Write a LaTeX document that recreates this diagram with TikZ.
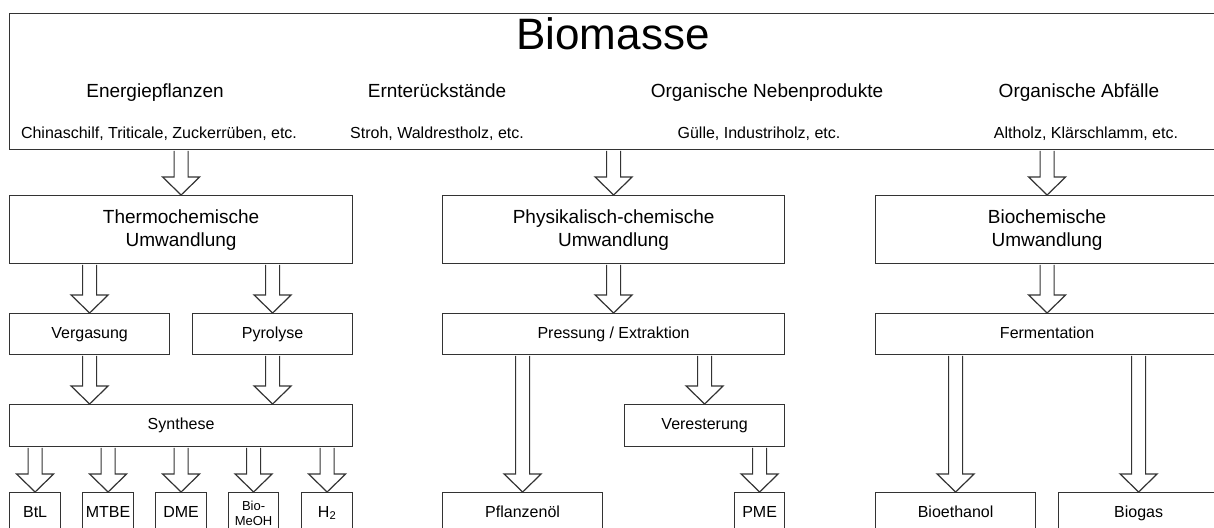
\documentclass[tikz,border=0pt]{standalone}
\usepackage{fontspec}
\setmainfont{Liberation Sans}
\usetikzlibrary{calc}

\tikzset{
	box/.style={draw=black!80, line width=1.2pt, fill=white, inner sep=0pt, align=center, anchor=north west},
	label/.style={inner sep=0pt, anchor=base},
	bigfont/.style={font=\fontsize{19}{23}\selectfont},
	smallfont/.style={font=\fontsize{16}{19}\selectfont, text height=11.5pt, text depth=3.4pt},
	blockarr/.style={draw=black!80, line width=1.2pt, fill=white, line join=miter},
}

% block arrow from #1 to #2, placed at the x of #3
\newcommand{\blockarrow}[3]{%
	\draw[blockarr] let \p1=(#2.north), \p2=(#1.south), \p3=(#3.center) in
		(\x3-7pt,\y2-0.6pt) -- (\x3-7pt,\y1+18pt) -- (\x3-18.5pt,\y1+18pt) -- (\x3,\y1)
		-- (\x3+18.5pt,\y1+18pt) -- (\x3+7pt,\y1+18pt) -- (\x3+7pt,\y2-0.6pt);}

\begin{document}
\begin{tikzpicture}[x=1pt, y=-1pt]

	\useasboundingbox (0,0) rectangle (1214,527);
	\clip (0,0) rectangle (1214,527);

	\node[box, minimum width=1208pt, minimum height=136pt] (biomasse) at (9,13) {};
	\node[label, font=\fontsize{44}{50}\selectfont] (title) at (613,50) {Biomasse};
	\node[label, bigfont] (cat1) at (155,97) {Energiepflanzen};
	\node[label, bigfont] (cat2) at (437,97) {Ernterückstände};
	\node[label, bigfont] (cat3) at (767,97) {Organische Nebenprodukte};
	\node[label, bigfont] (cat4) at (1079,97) {Organische Abfälle};
	\node[label, smallfont] (ex1) at (159,138) {Chinaschilf, Triticale, Zuckerrüben, etc.};
	\node[label, smallfont] (ex2) at (437,138) {Stroh, Waldrestholz, etc.};
	\node[label, smallfont] (ex3) at (759,138) {Gülle, Industriholz, etc.};
	\node[label, smallfont] (ex4) at (1086,138) {Altholz, Klärschlamm, etc.};

	\node[box, bigfont, minimum width=343pt, minimum height=68pt] (thermo) at (9,195) {Thermochemische\\Umwandlung};
	\node[box, bigfont, minimum width=342pt, minimum height=68pt] (physchem) at (442,195) {Physikalisch-chemische\\Umwandlung};
	\node[box, bigfont, minimum width=343pt, minimum height=68pt] (biochem) at (875,195) {Biochemische\\Umwandlung};

	\node[box, smallfont, minimum width=160pt, minimum height=41pt] (vergasung) at (9,313) {Vergasung};
	\node[box, smallfont, minimum width=160pt, minimum height=41pt] (pyrolyse) at (192,313) {Pyrolyse};
	\node[box, smallfont, minimum width=342pt, minimum height=41pt] (pressung) at (442,313) {Pressung / Extraktion};
	\node[box, smallfont, minimum width=343pt, minimum height=41pt] (fermentation) at (875,313) {Fermentation};

	\node[box, smallfont, minimum width=343pt, minimum height=42pt] (synthese) at (9,404) {Synthese};
	\node[box, smallfont, minimum width=160pt, minimum height=42pt] (veresterung) at (624,404) {Veresterung};

	\node[box, smallfont, minimum width=51pt, minimum height=41pt] (btl) at (9,492) {BtL};
	\node[box, smallfont, minimum width=51pt, minimum height=41pt] (mtbe) at (82,492) {MTBE};
	\node[box, smallfont, minimum width=51pt, minimum height=41pt] (dme) at (155,492) {DME};
	\node[box, font=\fontsize{13}{15}\selectfont, minimum width=50pt, minimum height=41pt] (biomeoh) at (228,492) {Bio-\\MeOH};
	\node[box, smallfont, minimum width=51pt, minimum height=41pt] (htwo) at (301,492) {H\textsubscript{2}};
	\node[box, smallfont, minimum width=160pt, minimum height=41pt] (pflanzenoel) at (442,492) {Pflanzenöl};
	\node[box, smallfont, minimum width=50pt, minimum height=41pt] (pme) at (734,492) {PME};
	\node[box, smallfont, minimum width=160pt, minimum height=41pt] (bioethanol) at (875,492) {Bioethanol};
	\node[box, smallfont, minimum width=160pt, minimum height=41pt] (biogas) at (1058,492) {Biogas};

	\blockarrow{biomasse}{thermo}{thermo}
	\blockarrow{biomasse}{physchem}{physchem}
	\blockarrow{biomasse}{biochem}{biochem}

	\blockarrow{thermo}{vergasung}{vergasung}
	\blockarrow{thermo}{pyrolyse}{pyrolyse}
	\blockarrow{vergasung}{synthese}{vergasung}
	\blockarrow{pyrolyse}{synthese}{pyrolyse}
	\foreach \prod in {btl, mtbe, dme, biomeoh, htwo}
		{\blockarrow{synthese}{\prod}{\prod}}

	\blockarrow{physchem}{pressung}{pressung}
	\blockarrow{pressung}{pflanzenoel}{pflanzenoel}
	\blockarrow{pressung}{veresterung}{veresterung}
	\blockarrow{veresterung}{pme}{pme}

	\blockarrow{biochem}{fermentation}{fermentation}
	\blockarrow{fermentation}{bioethanol}{bioethanol}
	\blockarrow{fermentation}{biogas}{biogas}

\end{tikzpicture}
\end{document}
